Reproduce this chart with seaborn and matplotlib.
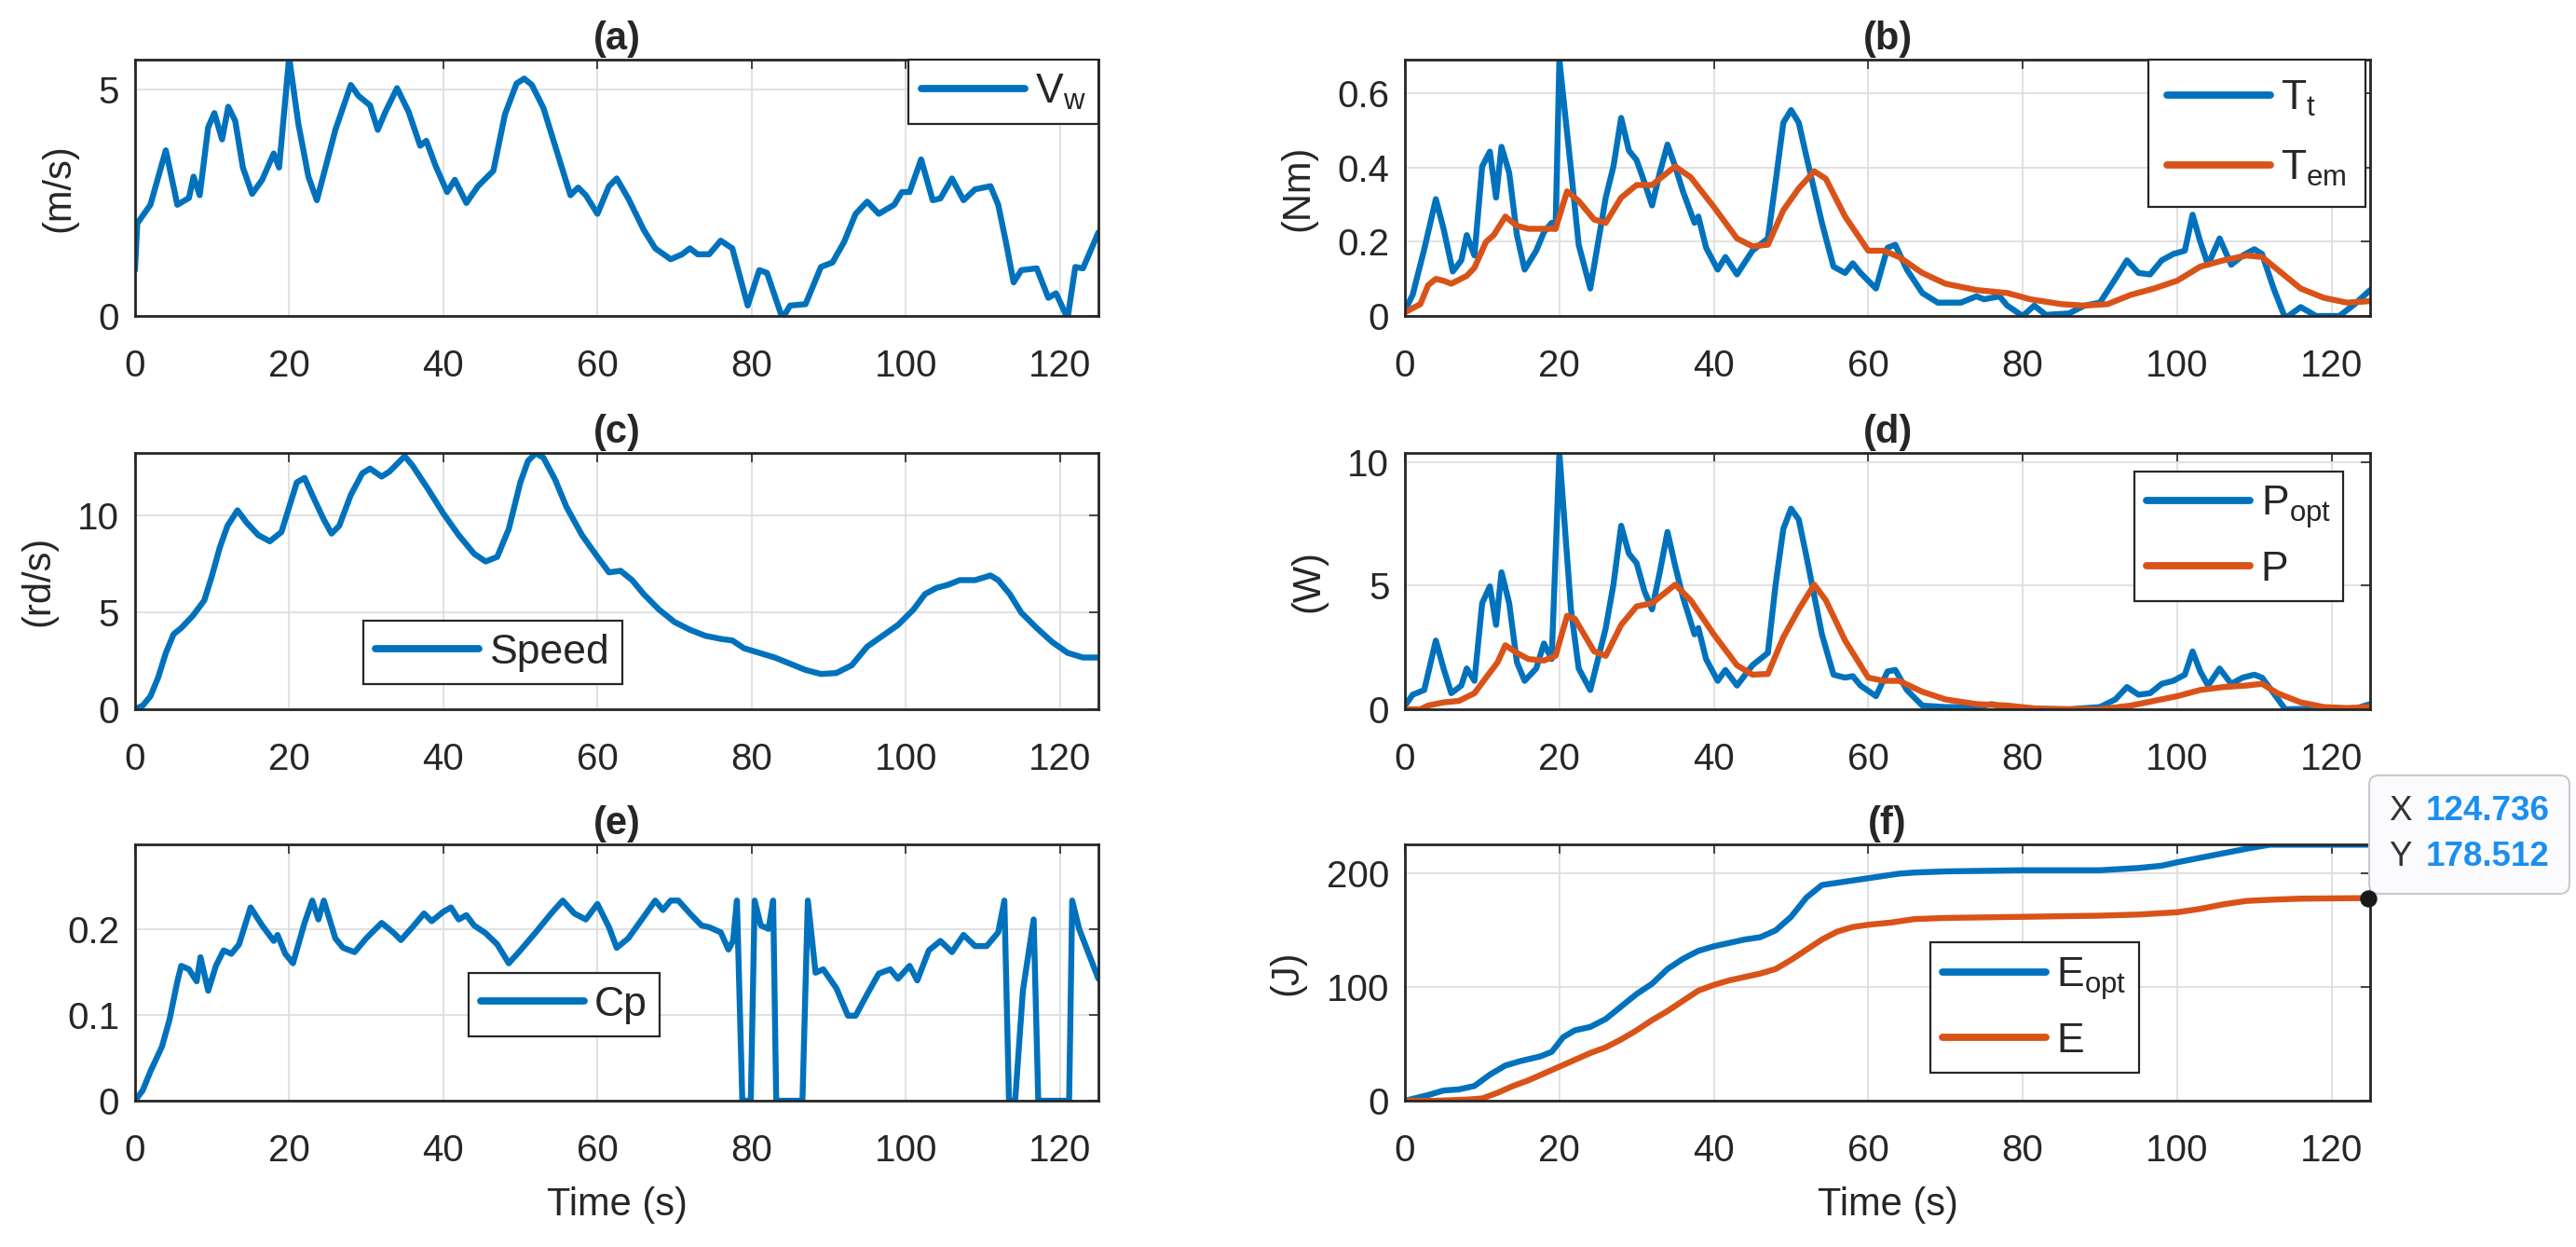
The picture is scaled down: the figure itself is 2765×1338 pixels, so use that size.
"""
Wind turbine MPPT simulation results: six stacked time-series panels
(wind speed, torques, rotor speed, powers, power coefficient, energy).
"""
import matplotlib
matplotlib.use("Agg")
import matplotlib.pyplot as plt
import seaborn as sns

from matplotlib.ticker import FuncFormatter
from matplotlib.offsetbox import TextArea, HPacker, VPacker, AnnotationBbox


# ================================================================================
# Data
# ================================================================================
# (a) wind speed
t_vw = [0, 0.3, 2, 4, 5.5, 7, 7.6, 8.4, 9.5, 10.3, 11.3, 12.1, 13, 14, 15.2, 16.5, 18, 18.7,
        20, 21.2, 22.5, 23.6, 26, 28, 29, 30.5, 31.5, 32.5, 34, 35.5, 37, 37.8, 39, 40.5,
        41.5, 43, 44.5, 46.5, 48, 49.5, 50.5, 51.5, 53, 55, 56.5, 57.5, 58.5, 60, 61.5,
        62.5, 64, 66, 67.5, 69.5, 71, 72, 73, 74.5, 76, 77.5, 79.5, 81, 82, 84, 85, 87, 89,
        90.5, 92, 93.5, 95, 96.5, 98.5, 99.5, 100.5, 102, 103.5, 104.5, 106, 107.5, 109,
        111, 112, 113, 114, 115, 117, 118.5, 119.5, 121, 122, 123, 125]
vw   = [1.01, 2.04, 2.45, 3.65, 2.45, 2.6, 3.07, 2.66, 4.16, 4.47, 3.89, 4.61, 4.3, 3.27,
        2.69, 3.0, 3.58, 3.27, 5.7, 4.23, 3.07, 2.55, 4.1, 5.09, 4.85, 4.64, 4.1, 4.5, 5.02,
        4.5, 3.75, 3.86, 3.31, 2.73, 3.0, 2.49, 2.86, 3.2, 4.44, 5.12, 5.23, 5.09, 4.58,
        3.48, 2.66, 2.83, 2.66, 2.25, 2.86, 3.03, 2.59, 1.9, 1.49, 1.25, 1.36, 1.49, 1.36,
        1.36, 1.66, 1.49, 0.23, 1.01, 0.95, -0.05, 0.23, 0.26, 1.08, 1.18, 1.63, 2.25, 2.52,
        2.25, 2.45, 2.73, 2.73, 3.45, 2.55, 2.59, 3.03, 2.55, 2.79, 2.86, 2.45, 1.63, 0.74,
        1.01, 1.05, 0.4, 0.5, -0.05, 1.08, 1.05, 1.84]

# (b) turbine torque and electromagnetic torque
t_tt = [0, 1, 2.5, 4, 5, 6.2, 7.3, 8, 9, 10, 11, 11.8, 12.5, 13.5, 14.5, 15.5, 17, 18, 19,
        19.5, 20, 21.5, 22.5, 24, 26, 27, 28, 29, 30, 31, 32, 33, 34, 35, 36, 37.5, 38, 39,
        40.5, 41.5, 43, 45, 47, 48, 49, 50, 51, 52, 54, 55.5, 57, 58, 59, 61, 62.5, 63.5,
        65, 67, 69, 72, 74, 75, 77, 78, 80, 81.5, 83, 86, 88, 90, 92, 93.5, 95, 96.5, 98,
        99.5, 101, 102, 103, 104, 105.5, 107, 108.5, 110, 111, 112.5, 114, 116, 118, 121,
        123, 125]
tt   = [0.015, 0.057, 0.18, 0.315, 0.235, 0.12, 0.15, 0.218, 0.163, 0.403, 0.443, 0.319,
        0.456, 0.386, 0.218, 0.125, 0.176, 0.226, 0.251, 0.235, 0.69, 0.395, 0.192, 0.074,
        0.319, 0.403, 0.534, 0.446, 0.42, 0.361, 0.298, 0.386, 0.462, 0.403, 0.336, 0.251,
        0.268, 0.184, 0.125, 0.159, 0.112, 0.176, 0.209, 0.361, 0.521, 0.555, 0.521, 0.429,
        0.251, 0.133, 0.116, 0.142, 0.116, 0.074, 0.184, 0.192, 0.125, 0.062, 0.036, 0.036,
        0.053, 0.045, 0.053, 0.028, 0.0, 0.028, 0.003, 0.007, 0.028, 0.036, 0.1, 0.15,
        0.116, 0.112, 0.15, 0.167, 0.176, 0.273, 0.2, 0.138, 0.209, 0.138, 0.163, 0.18,
        0.167, 0.074, -0.006, 0.024, 0.0, 0.0, 0.032, 0.07]
t_tem = [0, 2, 3, 4, 5, 6, 8, 9, 10.5, 11.5, 13, 14.5, 16, 18, 19.5, 21, 22.5, 24.5, 26, 28,
         30, 32, 33, 35, 37, 40, 43, 45, 47, 49, 51, 53, 54.5, 57, 60, 62, 64, 67, 70, 74,
         78, 81, 85, 88, 91, 94, 97, 100, 103, 106, 109, 111, 113, 116, 119, 122, 125]
tem   = [0.01, 0.032, 0.083, 0.1, 0.095, 0.087, 0.108, 0.13, 0.2, 0.218, 0.268, 0.243,
         0.235, 0.235, 0.235, 0.336, 0.31, 0.26, 0.251, 0.319, 0.353, 0.353, 0.37, 0.403,
         0.374, 0.294, 0.209, 0.188, 0.192, 0.285, 0.344, 0.39, 0.37, 0.268, 0.176, 0.176,
         0.159, 0.116, 0.087, 0.07, 0.062, 0.045, 0.032, 0.028, 0.032, 0.057, 0.074, 0.095,
         0.133, 0.15, 0.163, 0.159, 0.125, 0.074, 0.049, 0.036, 0.04]

# (c) rotor speed
t_sp  = [0, 1, 2, 3, 4, 5, 6, 7.5, 9, 10, 11, 12, 13.3, 14.5, 16, 17.5, 19, 20, 21, 22, 23,
         24.5, 25.5, 26.5, 28, 29.5, 30.5, 32, 33, 35, 36, 38, 40, 42, 44, 45.5, 47, 48.5,
         50, 51, 52, 53, 54.5, 56, 58, 60, 61.5, 63, 64.5, 66, 68, 70, 72, 74, 76, 77.5,
         79, 81, 83, 85, 87, 89, 91, 93, 95, 97, 99, 101, 102.5, 104, 105.5, 107, 109, 111,
         112, 113.5, 115, 117, 119, 121, 123, 125]
speed = [0, 0.19, 0.67, 1.63, 2.9, 3.87, 4.19, 4.82, 5.62, 6.9, 8.34, 9.46, 10.26, 9.62,
         8.98, 8.66, 9.14, 10.42, 11.7, 11.93, 11.05, 9.78, 9.06, 9.46, 11.05, 12.17, 12.41,
         12.0, 12.25, 13.05, 12.57, 11.37, 10.1, 8.98, 8.02, 7.62, 7.86, 9.3, 11.7, 12.81,
         13.2, 12.97, 11.85, 10.42, 8.98, 7.86, 7.06, 7.14, 6.66, 5.94, 5.14, 4.5, 4.1,
         3.79, 3.63, 3.55, 3.15, 2.91, 2.67, 2.35, 2.03, 1.82, 1.87, 2.27, 3.23, 3.79, 4.35,
         5.14, 5.94, 6.26, 6.42, 6.66, 6.66, 6.9, 6.66, 5.94, 4.98, 4.19, 3.47, 2.91, 2.67,
         2.67]

# (d) optimal power and extracted power
t_popt = [0, 1, 2.5, 4, 5, 6, 7.3, 8, 9, 10, 11, 11.8, 12.5, 13.5, 14.5, 15.5, 17, 18, 19,
          20, 21.5, 22.5, 24, 26, 27, 28, 29, 30, 31, 32, 33, 34, 35, 36, 37.5, 38, 39,
          40.5, 41.5, 43, 45, 47, 48, 49, 50, 51, 52, 54, 55.5, 57, 58, 59, 61, 62.5, 63.5,
          65, 67, 70, 74, 76, 78, 80, 82, 86, 90, 92, 93.5, 95, 96.5, 98, 99.5, 101, 102,
          103, 104, 105.5, 107, 108.5, 110, 111, 112.5, 114, 117, 121, 123, 125]
popt   = [0.15, 0.59, 0.78, 2.78, 1.65, 0.65, 0.96, 1.65, 1.15, 4.29, 4.97, 3.41, 5.54,
          4.29, 1.9, 1.15, 1.65, 2.66, 2.03, 10.35, 4.04, 1.65, 0.78, 3.28, 5.04, 7.42, 6.29,
          5.91, 4.79, 4.04, 5.54, 7.17, 5.79, 4.54, 3.03, 3.28, 2.03, 1.15, 1.59, 0.96, 1.78,
          2.28, 5.04, 7.29, 8.11, 7.67, 6.17, 3.03, 1.4, 1.28, 1.34, 0.96, 0.53, 1.53, 1.59,
          0.78, 0.15, 0.09, 0.09, 0.21, 0.05, 0.0, 0.02, 0.0, 0.09, 0.4, 0.9, 0.59, 0.65,
          1.03, 1.15, 1.4, 2.34, 1.53, 0.96, 1.65, 1.03, 1.28, 1.4, 1.28, 0.65, 0.0, 0.02,
          0.0, 0.02, 0.21]
t_p = [0, 2, 3, 5, 7, 9, 10.5, 12, 13, 14.5, 16, 18, 19.5, 21, 22, 24.5, 26, 28, 30, 32, 33,
       35, 37, 40, 43, 45, 47, 49, 51, 53, 54.5, 57, 60, 62, 64, 67, 70, 74, 78, 82, 86, 90,
       94, 97, 100, 103, 106, 109, 111, 113, 116, 119, 122, 125]
p   = [0.0, 0.0, 0.15, 0.28, 0.34, 0.65, 1.28, 1.9, 2.59, 2.28, 2.03, 1.97, 2.16, 3.78, 3.66,
       2.34, 2.16, 3.41, 4.16, 4.29, 4.54, 5.04, 4.41, 3.03, 1.78, 1.4, 1.43, 2.91, 4.04,
       5.04, 4.41, 2.78, 1.28, 1.15, 1.15, 0.71, 0.4, 0.21, 0.15, 0.02, 0.0, 0.0, 0.15, 0.34,
       0.53, 0.78, 0.9, 0.96, 1.03, 0.65, 0.28, 0.09, 0.05, 0.09]

# (e) power coefficient
t_cp = [0, 1, 2, 3.5, 4.5, 5.5, 6, 7, 8, 8.5, 9.5, 10.5, 11.5, 12.5, 13.5, 15, 16.5, 18,
        18.5, 19.5, 20.5, 22, 23, 23.8, 24.5, 26, 27, 28.5, 30, 32, 33.5, 34.5, 36, 37.5,
        38.5, 40, 41, 42, 43, 44, 45.5, 47, 48.5, 50, 52, 54, 55.5, 57, 58.5, 60, 61.5,
        62.5, 64, 66, 67.5, 68.5, 69.5, 70.5, 72, 73.5, 74.5, 76, 77, 77.6, 78.1, 78.8,
        79.9, 80.4, 81.2, 82.2, 82.8, 83.2, 86.6, 87.3, 88.3, 89.3, 91, 92.5, 93.5, 95,
        96.5, 98, 99, 100.5, 101.5, 103, 104.5, 106, 107.5, 109, 110.5, 112, 112.8, 113.4,
        114.2, 115.2, 116.6, 117.2, 121.2, 121.6, 122.5, 125]
cp   = [0, 0.012, 0.034, 0.063, 0.095, 0.139, 0.157, 0.153, 0.139, 0.167, 0.128, 0.157,
        0.175, 0.171, 0.182, 0.225, 0.204, 0.186, 0.193, 0.171, 0.16, 0.207, 0.233, 0.211,
        0.233, 0.189, 0.178, 0.173, 0.189, 0.207, 0.196, 0.187, 0.202, 0.218, 0.209, 0.22,
        0.225, 0.211, 0.216, 0.204, 0.195, 0.182, 0.16, 0.175, 0.196, 0.218, 0.233, 0.218,
        0.211, 0.229, 0.202, 0.178, 0.189, 0.214, 0.233, 0.222, 0.233, 0.233, 0.218, 0.204,
        0.202, 0.196, 0.176, 0.186, 0.233, 0, 0, 0.233, 0.204, 0.2, 0.233, 0, 0, 0.233,
        0.149, 0.153, 0.131, 0.099, 0.099, 0.124, 0.148, 0.153, 0.142, 0.157, 0.14, 0.175,
        0.186, 0.173, 0.193, 0.18, 0.18, 0.196, 0.233, 0, 0, 0.128, 0.211, 0, 0, 0.233, 0.2,
        0.142]

# (f) optimal energy and extracted energy
t_eopt = [0, 3, 5, 7, 9, 11, 13, 15, 17.5, 19, 20.5, 22, 24, 26, 28, 30, 32, 34, 36, 38, 40,
          42, 44, 46, 48, 50, 52, 54, 56, 58, 60, 62, 64, 66, 70, 80, 90, 95, 98, 100, 103,
          106, 109, 112, 125]
eopt   = [0, 5, 9, 10, 13, 23, 31, 35, 39, 43, 56, 62, 65, 72, 83, 94, 103, 116, 125, 132,
          136, 139, 142, 144, 150, 162, 179, 190, 192, 194, 196, 198, 200, 201, 202, 203,
          203, 205, 207, 210, 214, 218, 222, 225.5, 225.5]
t_e = [0, 4, 8, 10, 12, 14, 16, 18, 20, 22, 24, 26, 28, 30, 32, 34, 36, 38, 40, 42, 44, 46,
       48, 50, 52, 54, 56, 58, 60, 63, 66, 70, 80, 90, 95, 100, 103, 106, 109, 112, 116,
       124.736]
e   = [0, 0, 1, 2, 7, 13, 18, 24, 30, 36, 42, 47, 54, 62, 71, 79, 88, 97, 102, 106, 109, 112,
       116, 124, 133, 142, 149, 153, 155, 157, 160, 161, 162, 163, 164, 166, 169, 173, 176,
       177, 178, 178.512]

# data tip on (f)
tip_x, tip_y = 124.736, 178.512

x_ticks = [0, 20, 40, 60, 80, 100, 120]


# ================================================================================
# Styling
# ================================================================================
sns.set_theme(style="white")
plt.rcParams["font.family"]      = ["Liberation Sans", "DejaVu Sans"]
plt.rcParams["mathtext.default"] = "regular"

BLUE   = "#0072BD"
ORANGE = "#D95319"
INK    = "#262626"
GRID   = "#dedede"
LW     = 4.6

TITLE_STYLE  = {"fontsize": 30, "fontweight": "bold", "color": INK}
LABEL_STYLE  = {"fontsize": 30, "color": INK}
LEGEND_STYLE = {"fontsize": 32, "handlelength": 2.5, "handletextpad": 0.25,
                "borderaxespad": 0.0, "fancybox": False, "framealpha": 1.0,
                "edgecolor": INK}


def style_axes(ax, title, ylabel, yticks, ylim, xlabel=None):
    ax.set_xlim(0, 125)
    ax.set_ylim(*ylim)
    ax.set_xticks(x_ticks)
    ax.set_yticks(yticks)
    ax.yaxis.set_major_formatter(FuncFormatter(lambda v, _: f"{v:g}"))
    ax.grid(True, color=GRID, linewidth=1.3)
    ax.set_axisbelow(True)
    for spine in ax.spines.values():
        spine.set_visible(True)
        spine.set_color(INK)
        spine.set_linewidth(2.0)
    ax.tick_params(direction="in", top=True, right=True, length=7, width=1.2,
                   color=INK, labelsize=29, labelcolor=INK)
    ax.tick_params(axis="x", pad=25)
    ax.tick_params(axis="y", pad=12)
    ax.set_title(title, pad=8, **TITLE_STYLE)
    ax.set_ylabel(ylabel, labelpad=16, **LABEL_STYLE)
    ax.set_xlabel(xlabel if xlabel else "", labelpad=14, **LABEL_STYLE)


def add_legend(ax, borderpad=0.3, labelspacing=0.5, **kws):
    leg = ax.legend(borderpad=borderpad, labelspacing=labelspacing, **LEGEND_STYLE, **kws)
    leg.get_frame().set_linewidth(1.6)
    for handle in leg.get_lines():
        handle.set_linewidth(LW + 1)
    return leg


def line(ax, x, y, color, label):
    sns.lineplot(x=x, y=y, ax=ax, color=color, linewidth=LW, label=label,
                 estimator=None, sort=False)


# ================================================================================
# Figure
# ================================================================================
fig = plt.figure(figsize=(27.65, 13.38), dpi=100)

col_left, col_right = 0.0524, 0.5454
col_w_left, col_w_right = 0.3740, 0.3747
row_bottoms = [0.7466, 0.4312, 0.1173]
row_h = 0.2053

ax_a = fig.add_axes([col_left,  row_bottoms[0], col_w_left,  row_h])
ax_b = fig.add_axes([col_right, row_bottoms[0], col_w_right, row_h])
ax_c = fig.add_axes([col_left,  row_bottoms[1], col_w_left,  row_h])
ax_d = fig.add_axes([col_right, row_bottoms[1], col_w_right, row_h])
ax_e = fig.add_axes([col_left,  row_bottoms[2], col_w_left,  row_h])
ax_f = fig.add_axes([col_right, row_bottoms[2], col_w_right, row_h])

# (a) Wind speed
line(ax_a, t_vw, vw, BLUE, "V$_w$")
style_axes(ax_a, "(a)", "(m/s)", [0, 5], (0, 5.64))
add_legend(ax_a, loc="upper right", bbox_to_anchor=(1.0, 1.0))

# (b) Torques
line(ax_b, t_tt, tt, BLUE, "T$_t$")
line(ax_b, t_tem, tem, ORANGE, "T$_{em}$")
style_axes(ax_b, "(b)", "(Nm)", [0, 0.2, 0.4, 0.6], (0, 0.69))
add_legend(ax_b, borderpad=0.45, labelspacing=0.75,
           loc="upper right", bbox_to_anchor=(0.995, 1.0))

# (c) Rotor speed
line(ax_c, t_sp, speed, BLUE, "Speed")
style_axes(ax_c, "(c)", "(rd/s)", [0, 5, 10], (0, 13.2))
add_legend(ax_c, loc="upper left", bbox_to_anchor=(0.237, 0.345))

# (d) Powers
line(ax_d, t_popt, popt, BLUE, "P$_{opt}$")
line(ax_d, t_p, p, ORANGE, "P")
style_axes(ax_d, "(d)", "(W)", [0, 5, 10], (0, 10.35))
add_legend(ax_d, loc="upper right", bbox_to_anchor=(0.972, 0.93))

# (e) Power coefficient
line(ax_e, t_cp, cp, BLUE, "Cp")
style_axes(ax_e, "(e)", "", [0, 0.1, 0.2], (0, 0.298), xlabel="Time (s)")
add_legend(ax_e, loc="upper left", bbox_to_anchor=(0.346, 0.498))

# (f) Energies
line(ax_f, t_eopt, eopt, BLUE, "E$_{opt}$")
line(ax_f, t_e, e, ORANGE, "E")
style_axes(ax_f, "(f)", "(J)", [0, 100, 200], (0, 225.5), xlabel="Time (s)")
add_legend(ax_f, loc="upper left", bbox_to_anchor=(0.544, 0.618))

# --------------------------------------------------------------------------------
# Data tip on (f)
# --------------------------------------------------------------------------------
sns.scatterplot(x=[tip_x], y=[tip_y], ax=ax_f, color="#1a1a1a", s=150,
                edgecolor="#1a1a1a", clip_on=False, zorder=6, legend=False)

TIP_KEY = {"fontsize": 26.5, "color": "#333333"}
TIP_VAL = {"fontsize": 26.5, "color": "#1b8ff0", "fontweight": "bold"}
rows = [HPacker(children=[TextArea(k, textprops=TIP_KEY), TextArea(v, textprops=TIP_VAL)],
                align="baseline", pad=0, sep=11)
        for k, v in (("X", f"{tip_x:.3f}"), ("Y", f"{tip_y:.3f}"))]
tip_box = VPacker(children=rows, align="left", pad=0, sep=10)
ab = AnnotationBbox(tip_box, (tip_x, tip_y), xycoords="data",
                    xybox=(16, 19), boxcoords="offset points", box_alignment=(0, 0),
                    frameon=True, fontsize=25, annotation_clip=False,
                    bboxprops=dict(boxstyle="round,pad=0.62,rounding_size=0.3",
                                   facecolor="#fbfbfd", edgecolor="#c9c9cf", linewidth=1.5))
ax_f.add_artist(ab)

fig.savefig("out.png", dpi=100)
